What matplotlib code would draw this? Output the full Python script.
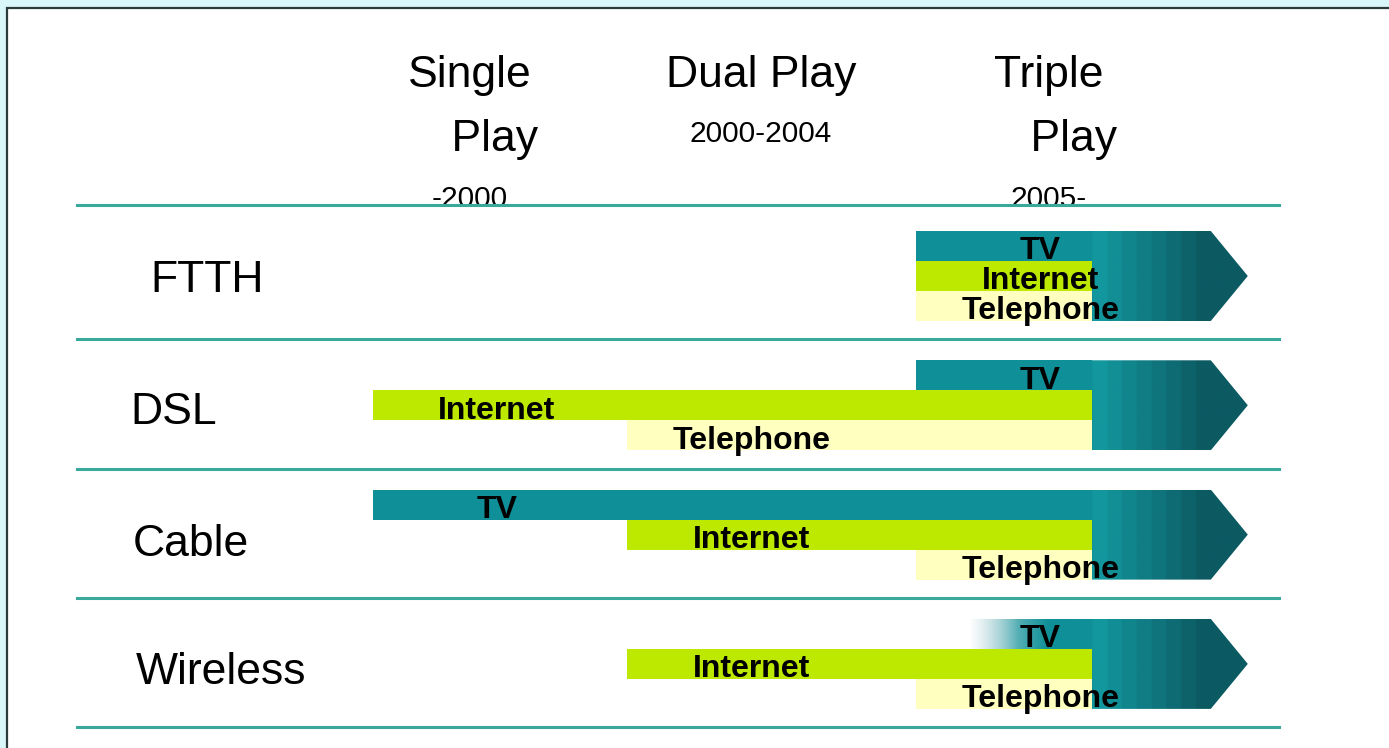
import numpy as np
import matplotlib.pyplot as plt
from matplotlib.patches import Rectangle, Polygon
from matplotlib.colors import to_rgb

techs = ['FTTH', 'DSL', 'Cable', 'Wireless']
services = ['TV', 'Internet', 'Telephone']
phases = ['Single\n    Play', 'Dual Play', 'Triple\n    Play']
phase_years = ['-2000', '2000-2004', '2005-']

# year in which each service starts, per technology
tv_start = [2005, 2005, 1995.6, 2005]
internet_start = [2005, 1995.6, 2000, 2000]
telephone_start = [2005, 2000, 2005, 2005]
tv_fading = [False, False, False, True]

# layout (x in years, y in band heights, top = 0)
BAR_END = 2008.05
BODY_END = 2010.1
TIP = 2010.74
TRIPLE = 2005
FIRST_ROW = 7.7
ROW_GAP = 4.31
phase_x = [1997.28, 2002.32, 2007.3]
row_label_x = [1991.75, 1991.4, 1991.45, 1991.5]
row_label_dy = [1.65, 1.75, 1.82, 1.8]

TEAL = '#0f8f97'
GREEN = '#bde800'
YELLOW = '#ffffc0'
LINE = '#38a99a'
colors = [TEAL, GREEN, YELLOW]

fig = plt.figure(figsize=(13.89, 7.48), dpi=100)
fig.patch.set_facecolor('#d9f6f8')
fig.add_artist(Rectangle((7 / 1389, -0.05), 1.1, 1 - 8 / 748 + 0.05,
                         transform=fig.transFigure, facecolor='white',
                         edgecolor='#2c3a3a', linewidth=1.6, zorder=-1))
ax = fig.add_axes([0, 0, 1, 1])
ax.set_xlim(1989.152, 2013.183)
ax.set_ylim(748 / 30, 0)
ax.set_axis_off()

font = 'Liberation Sans'

# headers
for i in range(3):
    ax.text(phase_x[i], 1.83, phases[i], ha='center', va='top', fontsize=32,
            family=font, linespacing=1.72)
ax.text(phase_x[1], 4.45, phase_years[1], ha='center', va='center',
        fontsize=21.5, family=font)
ax.text(phase_x[0], 6.63, phase_years[0], ha='center', va='center',
        fontsize=21.5, family=font, zorder=1)
ax.text(phase_x[2], 6.63, phase_years[2], ha='center', va='center',
        fontsize=21.5, family=font, zorder=1)


def arrow_image(x0, fade):
    n = 600
    xs = np.linspace(x0, TIP, n)
    light = np.array(to_rgb('#13979e'))
    dark = np.array(to_rgb('#0c5a62'))
    base = np.array(to_rgb(TEAL))
    img = np.ones((1, n, 4))
    for j, x in enumerate(xs):
        if x < BAR_END:
            c = base
        else:
            k = min(int((x - BAR_END) / (BODY_END - BAR_END) * 8), 7)
            c = light + (dark - light) * k / 7
        img[0, j, :3] = c
        if fade:
            a = np.clip((x - 2005.93) / 1.35, 0, 1)
            pale = np.array(to_rgb('#c6d6dc'))
            img[0, j, :3] = pale + (c - pale) * min(1, a * 1.6)
            img[0, j, 3] = a ** 0.7
    return img


for r, tech in enumerate(techs):
    top = FIRST_ROW + r * ROW_GAP
    starts = [tv_start[r], internet_start[r], telephone_start[r]]

    # arrow body with gradient
    x0 = max(tv_start[r], TRIPLE)
    pts = [(x0, top), (BODY_END, top), (TIP, top + 1.5),
           (BODY_END, top + 3), (x0, top + 3)]
    poly = Polygon(pts, closed=True, facecolor='none', edgecolor='none')
    ax.add_patch(poly)
    im = ax.imshow(arrow_image(x0, tv_fading[r]), extent=(x0, TIP, top + 3, top),
                   aspect='auto', interpolation='bilinear', zorder=1)
    im.set_clip_path(poly)

    # service bars
    for s in range(3):
        if not (s == 0 and tv_fading[r]):
            ax.add_patch(Rectangle((starts[s], top + s), BAR_END - starts[s], 1,
                                   facecolor=colors[s], edgecolor='none', zorder=2))
    for s in range(3):
        ax.text(starts[s] + 2.15, top + s + 0.68, services[s], ha='center',
                va='center', fontsize=23, fontweight='bold', family=font,
                zorder=4)

    ax.text(row_label_x[r], top + row_label_dy[r], tech, ha='left',
            va='center', fontsize=32, family=font)

# separator lines
for r in range(5):
    y = FIRST_ROW + r * ROW_GAP - 0.7
    if r == 0:
        y -= 0.17
    ax.plot([1990.48, 2011.28], [y, y], color=LINE, linewidth=2.2, zorder=3)

fig.savefig('out.png', dpi=100)
